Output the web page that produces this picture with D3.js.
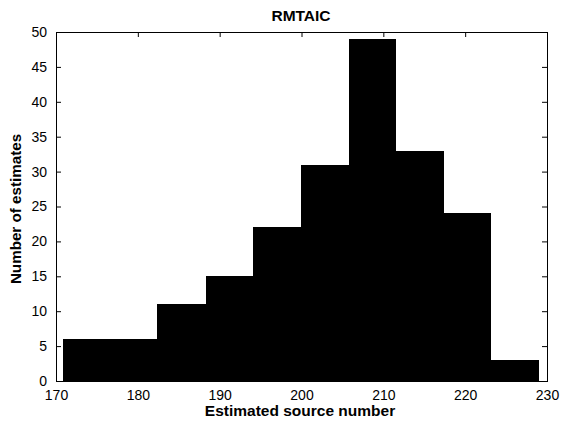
<!DOCTYPE html>
<html>
<head>
<meta charset="utf-8">
<script src="https://cdn.jsdelivr.net/npm/d3@7"></script>
<style>
  html, body { margin: 0; padding: 0; background: #fff; }
  svg { display: block; }
  text { font-family: "Liberation Sans", Arial, sans-serif; fill: #000; }
</style>
</head>
<body>
<svg id="chart" width="562" height="427"></svg>
<script>
const binEdges = [170.8, 176.6, 182.4, 188.3, 194.1, 199.9, 205.8, 211.6, 217.4, 223.2, 229.0];
const counts = [6, 6, 11, 15, 22, 31, 49, 33, 24, 3];
const xTicks = [170, 180, 190, 200, 210, 220, 230];
const yTicks = [0, 5, 10, 15, 20, 25, 30, 35, 40, 45, 50];
const title = "RMTAIC";
const xLabel = "Estimated source number";
const yLabel = "Number of estimates";

const svg = d3.select("#chart");
const m = { left: 56, right: 547, top: 32, bottom: 381 };

const x = d3.scaleLinear().domain([170, 230]).range([m.left, m.right]);
const y = d3.scaleLinear().domain([0, 50]).range([m.bottom, m.top]);

const bins = counts.map((c, i) => ({ x0: binEdges[i], x1: binEdges[i + 1], c }));

svg.append("rect").attr("x", 0).attr("y", 0).attr("width", 562).attr("height", 427).attr("fill", "#fff");

svg.append("g").selectAll("rect").data(bins).join("rect")
  .attr("x", d => x(d.x0))
  .attr("y", d => y(d.c))
  .attr("width", d => x(d.x1) - x(d.x0))
  .attr("height", d => y(0) - y(d.c))
  .attr("fill", "#000")
  .attr("shape-rendering", "crispEdges");

const tl = 5;
const fs = "14px";

const gx = svg.append("g").attr("transform", `translate(0,${m.bottom})`)
  .call(d3.axisBottom(x).tickValues(xTicks).tickSizeInner(-tl).tickSizeOuter(0).tickPadding(9));
const gxt = svg.append("g").attr("transform", `translate(0,${m.top})`)
  .call(d3.axisTop(x).tickValues(xTicks).tickSizeInner(-tl).tickSizeOuter(0).tickFormat(""));
const gy = svg.append("g").attr("transform", `translate(${m.left},0)`)
  .call(d3.axisLeft(y).tickValues(yTicks).tickSizeInner(-tl).tickSizeOuter(0).tickPadding(9));
const gyr = svg.append("g").attr("transform", `translate(${m.right},0)`)
  .call(d3.axisRight(y).tickValues(yTicks).tickSizeInner(-tl).tickSizeOuter(0).tickFormat(""));

[gx, gxt, gy, gyr].forEach(g => {
  g.select(".domain").remove();
  g.selectAll("line").attr("stroke", "#000").attr("stroke-width", 1);
  g.selectAll("text").style("font-family", '"Liberation Sans", Arial, sans-serif').style("font-size", fs).attr("fill", "#000");
});

svg.append("rect")
  .attr("x", m.left + 0.5).attr("y", m.top + 0.5)
  .attr("width", m.right - m.left).attr("height", m.bottom - m.top)
  .attr("fill", "none").attr("stroke", "#000").attr("stroke-width", 1);

svg.append("text").attr("x", 301).attr("y", 20.5).attr("text-anchor", "middle")
  .style("font-weight", "bold").style("font-size", "15.5px").text(title);

svg.append("text").attr("x", 300).attr("y", 416).attr("text-anchor", "middle")
  .style("font-weight", "bold").style("font-size", "15.5px").text(xLabel);

svg.append("text").attr("transform", `translate(21,209) rotate(-90)`)
  .attr("text-anchor", "middle")
  .style("font-weight", "bold").style("font-size", "15.2px").text(yLabel);
</script>
</body>
</html>
